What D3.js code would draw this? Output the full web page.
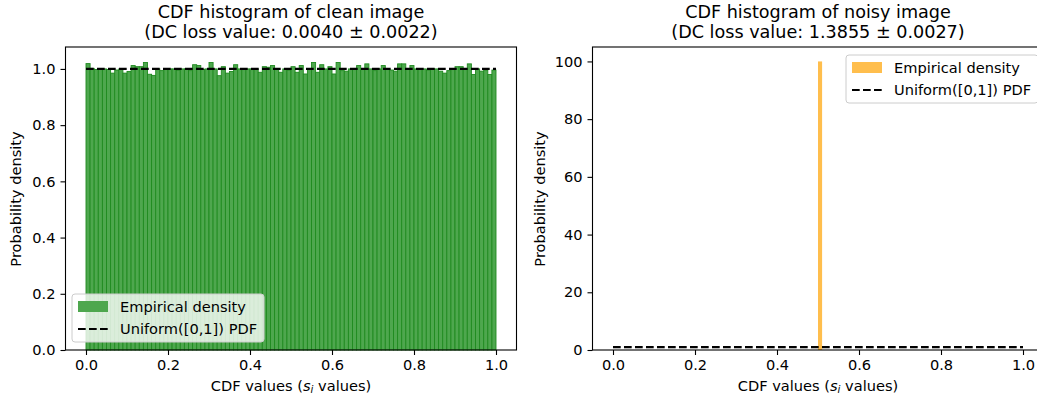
<!DOCTYPE html>
<html>
<head>
<meta charset="utf-8">
<script src="https://cdn.jsdelivr.net/npm/d3@7"></script>
<style>
  body { margin: 0; background: #fff; }
  svg { font-family: "DejaVu Sans", sans-serif; }
</style>
</head>
<body>
<div id="chart"></div>
<script>
// clean image: density per bin, 100 bins on [0,1]
const CLEAN_DENSITY = [
  1.019, 1.002, 0.998, 1.000, 1.000, 0.998, 0.985, 0.996, 1.000, 0.985,
  0.991, 1.012, 1.008, 1.008, 1.023, 0.981, 0.977, 1.000, 0.994, 1.000,
  1.000, 1.000, 0.995, 1.000, 1.000, 0.994, 1.015, 1.012, 0.998, 1.000,
  1.023, 1.000, 0.976, 1.008, 0.985, 0.991, 1.015, 1.000, 1.000, 1.000,
  1.000, 1.000, 0.988, 1.008, 1.006, 1.012, 1.000, 0.988, 1.000, 0.996,
  1.008, 0.988, 1.012, 0.982, 1.000, 1.023, 0.988, 1.015, 1.000, 1.008,
  0.982, 1.023, 0.994, 0.992, 1.000, 1.000, 1.012, 1.000, 1.018, 1.000,
  0.994, 1.000, 1.012, 1.000, 0.996, 0.992, 1.018, 1.018, 1.000, 1.012,
  1.000, 0.998, 1.000, 0.996, 1.000, 1.000, 0.992, 0.985, 0.994, 1.000,
  1.008, 1.008, 1.000, 1.018, 0.980, 1.000, 0.992, 0.996, 0.980, 0.996
];
// noisy image: every value falls into the bin [0.50, 0.51)
const NOISY_BIN_START = [0.50];
const NOISY_DENSITY = [100];

const TITLES_CLEAN = ["CDF histogram of clean image", "(DC loss value: 0.0040 \u00b1 0.0022)"];
const TITLES_NOISY = ["CDF histogram of noisy image", "(DC loss value: 1.3855 \u00b1 0.0027)"];
const X_TICKS = [0, 0.2, 0.4, 0.6, 0.8, 1.0];
const Y_TICKS_CLEAN = [0, 0.2, 0.4, 0.6, 0.8, 1.0];
const Y_TICKS_NOISY = [0, 20, 40, 60, 80, 100];
const LEGEND_LABELS = ["Empirical density", "Uniform([0,1]) PDF"];

const FRAME_WIDTH = 1037;
const FRAME_HEIGHT = 400;
const BIN_W = 0.01;
const FS = "14.6px";     // ticks, labels, legend
const FS_TITLE = "17.6px";

const svg = d3.select("#chart").append("svg")
  .attr("width", FRAME_WIDTH)
  .attr("height", FRAME_HEIGHT);

function drawPanel(opt) {
  const X_SCALE = d3.scaleLinear().domain([-0.05, 1.05]).range([opt.left, opt.right]);
  const Y_SCALE = d3.scaleLinear().domain([0, opt.ymax]).range([350, 47]);
  const g = svg.append("g");

  // bars
  g.append("g").selectAll("rect")
    .data(opt.bins)
    .enter().append("rect")
      .attr("x", (d) => X_SCALE(d.x0))
      .attr("y", (d) => Y_SCALE(d.h))
      .attr("width", (d) => X_SCALE(d.x0 + BIN_W) - X_SCALE(d.x0))
      .attr("height", (d) => Y_SCALE(0) - Y_SCALE(d.h))
      .attr("fill", opt.fill)
      .attr("stroke", opt.edge)
      .attr("stroke-width", opt.edge == "none" ? 0 : 0.9);

  // uniform pdf
  g.append("line")
    .attr("x1", X_SCALE(0)).attr("x2", X_SCALE(1))
    .attr("y1", Y_SCALE(1)).attr("y2", Y_SCALE(1))
    .attr("stroke", "#000")
    .attr("stroke-width", 2.1)
    .attr("stroke-dasharray", "7.7,3.3");

  // axes
  const xAxis = g.append("g")
    .attr("transform", "translate(0,350)")
    .call(d3.axisBottom(X_SCALE).tickValues(X_TICKS).tickFormat(d3.format(".1f")).tickSizeOuter(0).tickSize(5).tickPadding(5));
  const yAxis = g.append("g")
    .attr("transform", "translate(" + opt.left + ",0)")
    .call(d3.axisLeft(Y_SCALE).tickValues(opt.yTicks).tickFormat(opt.yFormat).tickSizeOuter(0).tickSize(5).tickPadding(5));
  [xAxis, yAxis].forEach((a) => {
    a.selectAll("text").attr("font-size", FS).attr("fill", "#000")
      .attr("font-family", "DejaVu Sans");
    a.selectAll("line").attr("stroke", "#000").attr("stroke-width", 1.1);
    a.select(".domain").remove();
  });

  // spines
  g.append("rect")
    .attr("x", opt.left).attr("y", 47)
    .attr("width", opt.right - opt.left).attr("height", 303)
    .attr("fill", "none").attr("stroke", "#000").attr("stroke-width", 1.1);

  // titles
  const cx = (opt.left + opt.right) / 2;
  opt.titles.forEach((t, i) => {
    g.append("text")
      .attr("x", cx).attr("y", 18 + i * 20)
      .attr("text-anchor", "middle")
      .attr("font-size", FS_TITLE)
      .text(t);
  });

  // x label with italic s_i
  const xl = g.append("text")
    .attr("x", cx).attr("y", 391)
    .attr("text-anchor", "middle")
    .attr("font-size", FS);
  xl.append("tspan").text("CDF values (");
  xl.append("tspan").attr("font-style", "italic").text("s");
  xl.append("tspan").attr("font-style", "italic").attr("font-size", "10.2px").attr("dy", 2).text("i");
  xl.append("tspan").attr("dy", -2).text(" values)");

  // y label
  g.append("text")
    .attr("transform", "translate(" + opt.ylabelX + ",199) rotate(-90)")
    .attr("text-anchor", "middle")
    .attr("font-size", FS)
    .text("Probability density");

  // legend
  const lg = g.append("g").attr("transform", "translate(" + opt.legX + "," + opt.legY + ")");
  lg.append("rect")
    .attr("width", 192).attr("height", 48)
    .attr("rx", 3)
    .attr("fill", "#fff").attr("fill-opacity", 0.8)
    .attr("stroke", "#ccc").attr("stroke-width", 1);
  lg.append("rect")
    .attr("x", 6).attr("y", 7).attr("width", 30).attr("height", 11)
    .attr("fill", opt.fill);
  lg.append("line")
    .attr("x1", 6).attr("x2", 36).attr("y1", 35).attr("y2", 35)
    .attr("stroke", "#000").attr("stroke-width", 2.1)
    .attr("stroke-dasharray", "7.7,3.3");
  LEGEND_LABELS.forEach((t, i) => {
    lg.append("text")
      .attr("x", 48).attr("y", 18 + i * 22)
      .attr("font-size", FS)
      .text(t);
  });
}

drawPanel({
  left: 65.5, right: 516.5,
  ymax: 1.078,
  bins: CLEAN_DENSITY.map((h, i) => ({x0: i * BIN_W, h: h})),
  fill: "#4ea74e", edge: "#1f8a1f",
  yTicks: Y_TICKS_CLEAN, yFormat: d3.format(".1f"),
  titles: TITLES_CLEAN,
  ylabelX: 21,
  legX: 72, legY: 294
});

drawPanel({
  left: 592.5, right: 1043.5,
  ymax: 105,
  bins: NOISY_BIN_START.map((x, i) => ({x0: x, h: NOISY_DENSITY[i]})),
  fill: "#ffbe4d", edge: "none",
  yTicks: Y_TICKS_NOISY, yFormat: d3.format("d"),
  titles: TITLES_NOISY,
  ylabelX: 545,
  legX: 846, legY: 55
});
</script>
</body>
</html>
